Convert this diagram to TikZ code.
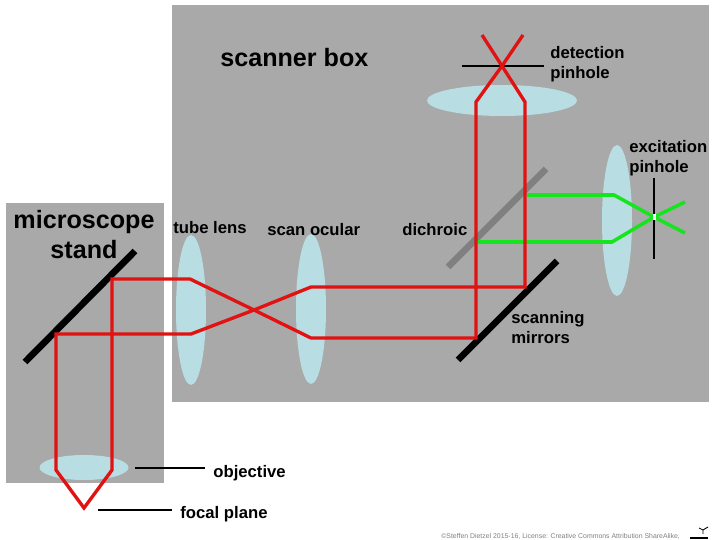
\documentclass[tikz,border=0pt]{standalone}
\usepackage{fontspec}
\setmainfont{Liberation Sans}
\definecolor{boxgray}{HTML}{A9A9A9}
\definecolor{lensblue}{HTML}{B8DDE2}
\definecolor{beamred}{HTML}{E01212}
\definecolor{beamgreen}{HTML}{16E41E}
\definecolor{mirrorgray}{HTML}{808080}
\tikzset{
  lens/.style={fill=lensblue},
  redbeam/.style={beamred, line width=1.9pt, line join=miter},
  greenbeam/.style={beamgreen, line width=2pt, line join=miter},
  mirror/.style={line width=3.8pt},
  pinhole/.style={line width=1.5pt},
  leader/.style={line width=1pt},
  smalllabel/.style={font=\bfseries\fontsize{9.5}{11.4}\selectfont, align=left, anchor=base west, inner sep=0pt},
  biglabel/.style={font=\bfseries\fontsize{14.3}{17.3}\selectfont, inner sep=0pt},
}
\begin{document}
\begin{tikzpicture}[x=0.02cm, y=-0.02cm]
    \useasboundingbox (0,0) rectangle (720,540);
    % Define points
    \coordinate (det focus) at (502,66);
    \coordinate (det left) at (476,102);
    \coordinate (det right) at (525,102);
    \coordinate (exc focus) at (654,217);
    \coordinate (relay focus) at (254,310);
    \coordinate (obj focus) at (84,508);
    % Boxes
    \fill[boxgray] (172,5) rectangle (709,402);
    \fill[boxgray] (6,203) rectangle (164,483);
    % Lenses
    \fill[lens] (502,100.5) ellipse (75 and 15.5);
    \fill[lens] (617,220.5) ellipse (15 and 75.5);
    \fill[lens] (191,310) ellipse (15 and 75);
    \fill[lens] (311,309) ellipse (15 and 75);
    \fill[lens] (84,467.5) ellipse (44.5 and 12.5);
    % Mirrors
    \draw[mirror, mirrorgray] (448,267) -- (546,169);
    \draw[mirror] (458,360) -- (557,261);
    \draw[mirror] (25,362) -- (135,251);
    % Green beam
    \draw[greenbeam] (527,195) -- (614,195) -- (exc focus) -- (685,233);
    \draw[greenbeam] (476,242) -- (612,242) -- (exc focus) -- (685,202);
    % Pinholes
    \draw[pinhole] (462,66) -- (544,66);
    \draw[pinhole] (654,178) -- (654,259);
    \fill[white] (653,214) rectangle (655.5,220);
    % Red beam
    \draw[redbeam] (482,35) -- (det focus) -- (det right) -- (525,287) -- (311,287)
      -- (relay focus) -- (191,334) -- (56,334) -- (56,470) -- (obj focus) -- (112,470)
      -- (112,279) -- (190,279) -- (relay focus) -- (311,338) -- (476,338) -- (det left)
      -- (det focus) -- (523,35);
    % Leader lines
    \draw[leader] (135,468) -- (205,468);
    \draw[leader] (98,510) -- (172,510);
    % Labels
    \node[biglabel, anchor=base west] (scanner) at (220,67) {scanner box};
    \node[biglabel, align=center, anchor=base] (stand) at (84,259) {microscope\\stand};
    \node[smalllabel] (detection) at (550,79) {detection\\pinhole};
    \node[smalllabel] (excitation) at (629,173) {excitation\\pinhole};
    \node[smalllabel] (dichroic) at (402,236) {dichroic};
    \node[smalllabel] (scanning) at (511,344) {scanning\\mirrors};
    \node[smalllabel] (tube) at (173,234) {tube lens};
    \node[smalllabel] (ocular) at (267,236) {scan ocular};
    \node[smalllabel] (objective) at (213,477) {objective};
    \node[smalllabel] (focal) at (180,518) {focal plane};
    \node[anchor=base west, inner sep=0pt, text=gray, font=\fontsize{3.93}{4.4}\selectfont] (footer) at (441,538)
      {©Steffen Dietzel 2015-16, License: Creative Commons Attribution ShareAlike,};
    % Corner mark
    \draw[line width=0.6pt] (690,538) -- (708,538);
    \draw[line width=0.5pt] (703,534) -- (703,530) -- (699,528) (703,530) -- (708,527);
\end{tikzpicture}
\end{document}
